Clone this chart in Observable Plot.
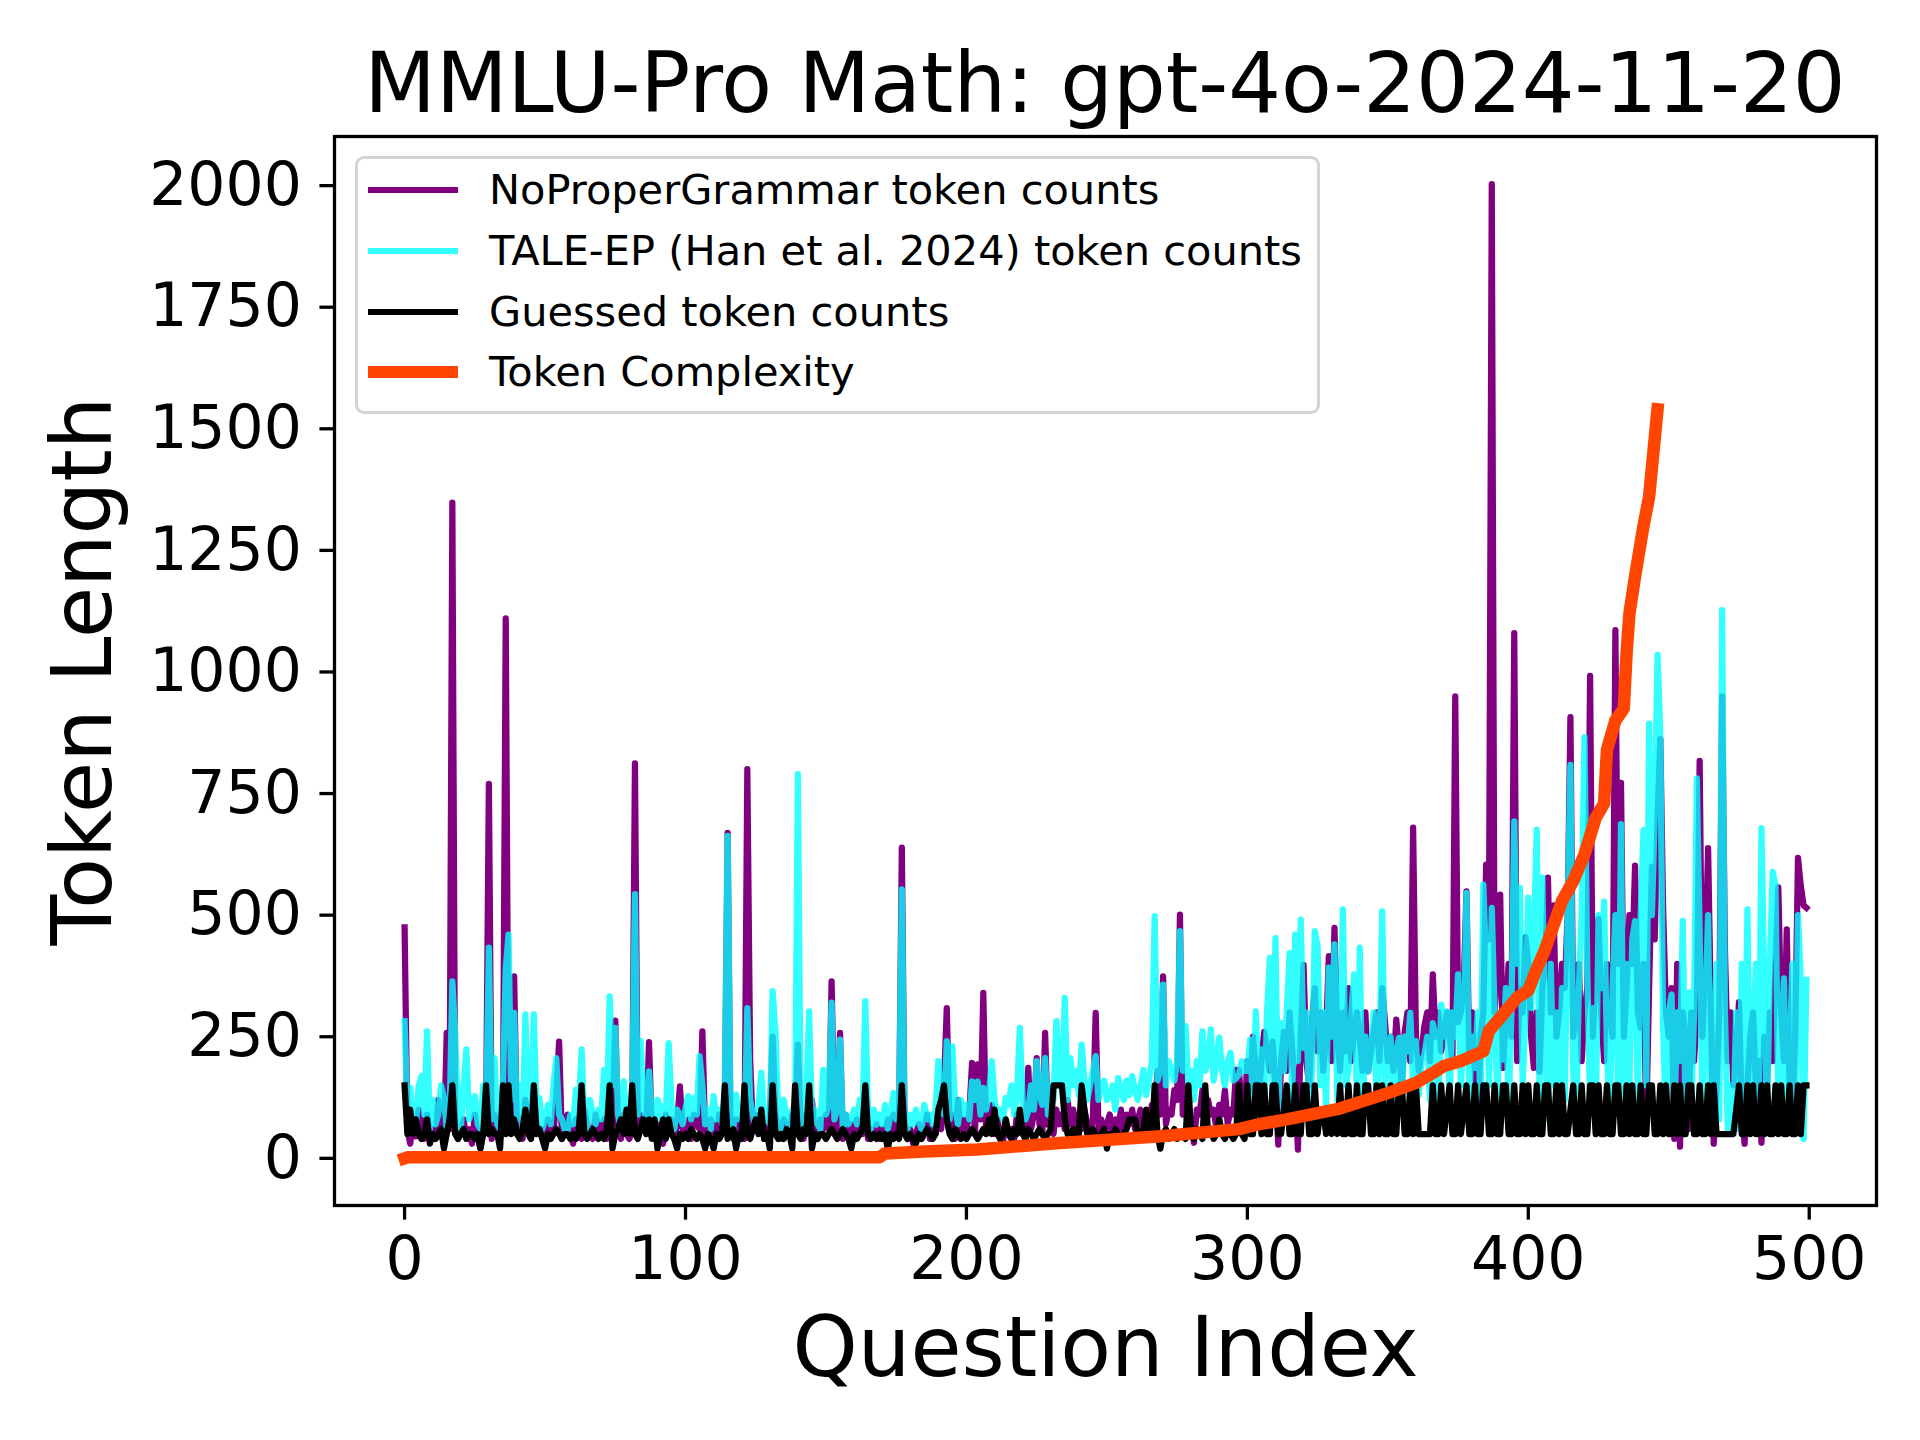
<!DOCTYPE html>
<html>
<head>
<meta charset="utf-8">
<script src="https://cdn.jsdelivr.net/npm/d3@7"></script>
<script src="https://cdn.jsdelivr.net/npm/@observablehq/plot@0.6"></script>
<style>
  html, body { margin: 0; padding: 0; background: white; }
  #wrap { position: relative; width: 1920px; height: 1440px; font-family: "DejaVu Sans", sans-serif; color: black; }
  #title { box-sizing: border-box; height: 126px; padding-top: 42px; margin-left: 334px; width: 1542px;
           text-align: center; font-size: 83px; line-height: 83px; white-space: nowrap; }
  #chart svg { display: block; }
  g[aria-label="x-axis label"], g[aria-label="y-axis label"] { font-size: 83px; }
  g[aria-label="x-axis label"] text, g[aria-label="y-axis label"] text { font-size: 83px; }
  #legend { position: absolute; left: 355px; top: 156px; width: 965px; height: 258px; box-sizing: border-box;
            border: 3.5px solid rgba(204,204,204,0.85); border-radius: 9px; background: rgba(255,255,255,0.8); }
  .sw { position: absolute; left: 10px; width: 90px; }
  .lt { position: absolute; left: 131px; font-size: 41.5px; line-height: 41.5px; white-space: nowrap; }
</style>
</head>
<body>
<div id="wrap">
  <div id="title"></div>
  <div id="chart"></div>
  <div id="legend"></div>
</div>
<script>
const titleText = "MMLU-Pro Math: gpt-4o-2024-11-20";
const xLabel = "Question Index";
const yLabel = "Token Length";
const xTicks = [0, 100, 200, 300, 400, 500];
const yTicks = [0, 250, 500, 750, 1000, 1250, 1500, 1750, 2000];
const seriesNames = ["NoProperGrammar token counts", "TALE-EP (Han et al. 2024) token counts", "Guessed token counts", "Token Complexity"];
const seriesColors = ["#800080", "#00ffff", "#000000", "#ff4500"];

// NoProperGrammar token counts (purple), question index 0..499
const noProperGrammar = [
  475, 60, 30, 80, 45, 100, 70, 40, 90, 50,
  60, 40, 120, 50, 30, 258, 60, 1348, 60, 40,
  50, 80, 40, 60, 30, 90, 45, 20, 60, 80,
  770, 40, 90, 60, 40, 70, 1110, 90, 60, 374,
  50, 80, 40, 120, 60, 40, 90, 70, 50, 60,
  40, 80, 60, 50, 130, 240, 40, 60, 90, 50,
  30, 80, 60, 40, 100, 70, 50, 40, 90, 60,
  50, 80, 40, 100, 70, 283, 60, 40, 90, 50,
  40, 60, 812, 60, 90, 70, 50, 239, 60, 40,
  70, 50, 30, 90, 60, 80, 40, 70, 148, 60,
  50, 80, 40, 90, 70, 60, 261, 50, 40, 80,
  60, 40, 90, 70, 120, 669, 60, 40, 80, 50,
  70, 40, 800, 203, 60, 90, 50, 80, 40, 60,
  70, 250, 90, 60, 40, 80, 60, 50, 90, 60,
  234, 60, 40, 90, 70, 120, 50, 40, 80, 60,
  90, 60, 364, 70, 60, 258, 40, 90, 50, 70,
  40, 80, 60, 50, 90, 40, 60, 50, 70, 40,
  60, 40, 80, 50, 90, 60, 70, 639, 50, 40,
  60, 30, 50, 70, 40, 60, 90, 40, 60, 50,
  80, 60, 150, 309, 60, 90, 40, 120, 60, 80,
  60, 90, 196, 50, 193, 80, 340, 50, 70, 110,
  50, 80, 40, 35, 70, 50, 60, 40, 90, 60,
  70, 50, 186, 60, 90, 206, 70, 50, 258, 69,
  80, 50, 100, 70, 90, 60, 120, 70, 100, 60,
  90, 60, 100, 70, 50, 80, 299, 60, 80, 50,
  70, 90, 50, 80, 60, 100, 50, 90, 70, 100,
  60, 80, 100, 50, 90, 70, 110, 80, 180, 90,
  374, 70, 100, 90, 140, 120, 501, 90, 100, 70,
  60, 32, 100, 90, 140, 70, 120, 90, 100, 60,
  110, 90, 140, 70, 100, 90, 182, 182, 100, 90,
  200, 140, 250, 180, 120, 200, 260, 220, 180, 240,
  150, 28, 200, 260, 180, 300, 220, 150, 18, 250,
  398, 200, 150, 280, 350, 220, 300, 180, 250, 416,
  200, 474, 250, 180, 300, 220, 350, 200, 260, 300,
  250, 180, 300, 179, 220, 260, 300, 200, 350, 280,
  200, 250, 180, 285, 220, 150, 260, 300, 200, 680,
  250, 180, 220, 272, 300, 200, 378, 250, 300, 220,
  260, 300, 250, 200, 950, 280, 300, 350, 549, 200,
  300, 180, 66, 250, 300, 604, 450, 2003, 300, 400,
  542, 186, 300, 400, 250, 1080, 200, 350, 300, 455,
  400, 250, 186, 300, 178, 350, 400, 577, 300, 520,
  250, 300, 400, 350, 500, 907, 250, 300, 400, 200,
  300, 350, 992, 250, 400, 492, 300, 200, 400, 300,
  250, 1086, 400, 772, 250, 350, 500, 400, 602, 300,
  268, 400, 80, 350, 600, 450, 700, 862, 512, 300,
  250, 350, 40, 400, 24, 300, 250, 60, 300, 200,
  300, 817, 250, 400, 638, 300, 30, 150, 300, 950,
  427, 200, 300, 150, 200, 321, 100, 30, 150, 250,
  300, 150, 200, 32, 250, 150, 300, 200, 400, 557,
  300, 200, 471, 150, 100, 250, 618, 560, 520, 515
];

// TALE-EP (Han et al. 2024) token counts (cyan)
const taleEP = [
  282, 100, 145, 80, 60, 148, 169, 90, 261, 60,
  120, 70, 90, 150, 124, 60, 80, 364, 258, 90,
  60, 150, 224, 80, 100, 128, 70, 60, 150, 90,
  433, 80, 206, 70, 60, 150, 388, 460, 120, 299,
  80, 150, 60, 296, 100, 70, 296, 90, 124, 60,
  80, 110, 70, 150, 206, 90, 80, 60, 56, 90,
  70, 141, 100, 224, 80, 60, 120, 90, 70, 100,
  80, 182, 90, 333, 150, 268, 90, 60, 158, 70,
  90, 120, 543, 90, 241, 110, 70, 179, 90, 60,
  120, 107, 70, 90, 237, 110, 60, 100, 90, 70,
  103, 128, 80, 124, 90, 210, 150, 70, 100, 60,
  128, 80, 100, 70, 150, 663, 90, 60, 131, 80,
  100, 70, 309, 120, 90, 60, 110, 176, 80, 100,
  70, 344, 261, 90, 60, 120, 80, 62, 100, 70,
  790, 90, 60, 120, 302, 80, 100, 70, 60, 182,
  90, 110, 320, 80, 100, 244, 60, 90, 70, 83,
  100, 70, 120, 90, 323, 80, 60, 100, 69, 90,
  70, 110, 60, 90, 134, 80, 100, 553, 70, 60,
  90, 70, 100, 76, 60, 110, 80, 90, 70, 100,
  200, 120, 90, 241, 80, 230, 100, 70, 120, 90,
  110, 80, 158, 120, 158, 90, 145, 100, 130, 200,
  120, 90, 100, 80, 124, 110, 150, 90, 130, 268,
  120, 80, 97, 150, 100, 200, 130, 110, 206, 90,
  150, 120, 282, 180, 140, 330, 120, 206, 150, 180,
  130, 234, 160, 120, 150, 180, 210, 120, 148, 160,
  120, 131, 150, 100, 165, 140, 120, 160, 130, 169,
  140, 120, 150, 182, 130, 160, 200, 498, 160, 180,
  357, 150, 200, 180, 160, 200, 467, 180, 272, 150,
  180, 120, 200, 150, 261, 180, 200, 265, 160, 200,
  248, 180, 150, 200, 217, 160, 165, 172, 200, 180,
  180, 244, 100, 302, 150, 224, 90, 300, 412, 120,
  453, 100, 278, 180, 300, 422, 120, 460, 200, 491,
  227, 300, 100, 180, 467, 436, 150, 300, 100, 392,
  250, 440, 120, 200, 512, 150, 180, 300, 378, 120,
  433, 100, 250, 179, 220, 300, 120, 200, 508, 150,
  200, 250, 100, 220, 248, 120, 250, 220, 299, 150,
  241, 130, 200, 213, 250, 120, 278, 250, 100, 316,
  250, 302, 120, 300, 250, 378, 150, 250, 546, 120,
  250, 186, 300, 100, 563, 400, 150, 515, 300, 120,
  300, 203, 350, 100, 300, 693, 400, 556, 150, 300,
  536, 309, 450, 676, 120, 577, 235, 80, 400, 150,
  300, 90, 350, 120, 500, 809, 178, 60, 350, 500,
  866, 390, 100, 309, 60, 500, 350, 528, 219, 90,
  350, 500, 100, 687, 60, 400, 150, 450, 488, 100,
  500, 675, 150, 894, 500, 700, 1035, 870, 268, 60,
  300, 337, 80, 300, 200, 488, 60, 341, 100, 300,
  781, 463, 90, 300, 500, 60, 250, 400, 80, 1127,
  300, 60, 150, 73, 300, 60, 400, 100, 512, 60,
  250, 400, 80, 679, 350, 60, 400, 589, 561, 100,
  250, 370, 60, 200, 400, 80, 500, 366, 40, 367
];

// Guessed token counts (black)
const guessed = [
  150, 50, 100, 50, 80, 50, 40, 50, 80, 30,
  50, 40, 50, 60, 20, 50, 80, 150, 50, 40,
  50, 60, 40, 50, 50, 40, 50, 20, 50, 150,
  50, 60, 50, 50, 20, 150, 50, 150, 50, 80,
  50, 40, 60, 100, 50, 40, 150, 50, 60, 40,
  20, 50, 40, 50, 60, 50, 40, 50, 50, 40,
  50, 40, 50, 150, 50, 40, 50, 60, 50, 40,
  50, 40, 60, 150, 20, 50, 60, 80, 50, 100,
  50, 150, 50, 40, 60, 80, 50, 80, 40, 80,
  20, 50, 80, 40, 80, 50, 40, 20, 50, 40,
  50, 40, 60, 50, 40, 50, 40, 20, 50, 40,
  20, 50, 40, 50, 150, 40, 50, 60, 20, 50,
  40, 150, 50, 40, 60, 80, 50, 100, 40, 50,
  20, 150, 50, 40, 50, 40, 60, 50, 20, 150,
  50, 40, 60, 50, 150, 20, 50, 40, 50, 50,
  40, 50, 60, 50, 40, 50, 60, 50, 40, 20,
  50, 40, 50, 60, 150, 50, 40, 50, 40, 50,
  40, 50, 20, 50, 40, 50, 40, 150, 50, 40,
  50, 40, 30, 50, 40, 50, 60, 50, 40, 50,
  100, 120, 150, 80, 50, 40, 60, 50, 40, 50,
  40, 50, 60, 50, 40, 50, 60, 50, 80, 50,
  100, 50, 40, 50, 80, 50, 40, 60, 50, 100,
  50, 40, 60, 50, 40, 50, 60, 50, 40, 50,
  60, 150, 150, 150, 150, 80, 50, 40, 60, 50,
  50, 150, 100, 50, 40, 60, 50, 40, 50, 60,
  20, 50, 40, 60, 50, 40, 50, 60, 80, 80,
  80, 50, 40, 60, 100, 50, 40, 150, 50, 20,
  50, 60, 40, 50, 60, 40, 50, 50, 40, 150,
  50, 40, 60, 50, 40, 150, 50, 60, 40, 50,
  80, 50, 40, 60, 50, 40, 50, 150, 50, 40,
  150, 50, 50, 150, 150, 50, 150, 50, 50, 150,
  150, 50, 50, 100, 150, 50, 50, 150, 50, 50,
  150, 150, 50, 50, 150, 50, 100, 100, 50, 100,
  50, 100, 50, 150, 50, 50, 150, 50, 50, 150,
  50, 50, 150, 150, 50, 50, 150, 50, 150, 50,
  50, 150, 50, 50, 150, 150, 50, 50, 150, 50,
  150, 50, 50, 50, 50, 50, 150, 50, 50, 150,
  50, 100, 150, 50, 50, 150, 50, 100, 150, 50,
  50, 150, 50, 50, 150, 150, 50, 50, 150, 50,
  50, 150, 150, 50, 50, 150, 50, 50, 150, 50,
  150, 50, 50, 150, 50, 50, 150, 150, 50, 50,
  150, 50, 150, 50, 50, 100, 150, 50, 50, 150,
  50, 50, 150, 150, 50, 150, 50, 50, 150, 50,
  50, 150, 150, 50, 50, 150, 50, 150, 50, 50,
  150, 50, 50, 150, 150, 50, 50, 150, 50, 150,
  50, 50, 150, 50, 150, 50, 50, 150, 150, 50,
  50, 150, 50, 50, 150, 50, 150, 50, 50, 50,
  50, 50, 50, 50, 100, 150, 50, 50, 150, 50,
  150, 50, 50, 150, 50, 150, 50, 50, 150, 50,
  150, 50, 50, 150, 50, 50, 150, 50, 150, 150
];

// Token Complexity (orange-red), read at sampled question indices
const complexityIndex = [0, 1, 169, 171, 185, 204, 232, 268, 297, 304, 314, 332, 350, 360, 367, 370, 376, 384, 386, 391, 396, 400, 403, 406, 408, 412, 416, 420, 424, 427, 428, 431, 434, 435, 436, 438, 441, 443, 444, 446];
const complexityValue = [0, 2, 2, 10, 14, 18, 31, 45, 60, 70, 80, 101, 134, 155, 179, 190, 200, 220, 262, 296, 330, 345, 390, 430, 463, 529, 570, 625, 700, 730, 840, 900, 925, 1040, 1120, 1196, 1300, 1360, 1420, 1540];

const complexity = complexityIndex.map((x, i) => ({x, y: complexityValue[i]}));

document.getElementById("title").textContent = titleText;

const chart = Plot.plot({
  width: 1920,
  height: 1314,
  marginTop: 10,
  marginBottom: 235,
  marginLeft: 334,
  marginRight: 44,
  style: {fontFamily: "DejaVu Sans", fontSize: "60px", color: "black", background: "white", overflow: "visible"},
  x: {domain: [-24.95, 523.95]},
  y: {domain: [-97, 2101]},
  marks: [
    Plot.line(noProperGrammar, {x: (d, i) => i, y: d => d, stroke: seriesColors[0], strokeWidth: 6.25, strokeLinejoin: "round", strokeLinecap: "square"}),
    Plot.line(taleEP, {x: (d, i) => i, y: d => d, stroke: seriesColors[1], strokeOpacity: 0.8, strokeWidth: 6.25, strokeLinejoin: "round", strokeLinecap: "square"}),
    Plot.line(guessed, {x: (d, i) => i, y: d => d, stroke: seriesColors[2], strokeWidth: 6.25, strokeLinejoin: "round", strokeLinecap: "square"}),
    Plot.line(complexity, {x: "x", y: "y", stroke: seriesColors[3], strokeWidth: 12.5, strokeLinejoin: "round", strokeLinecap: "square"}),
    Plot.frame({stroke: "black", strokeWidth: 3.3}),
    Plot.axisX({ticks: xTicks, tickSize: 14.6, tickPadding: 16, fontSize: 60, strokeWidth: 3.3, tickFormat: d => String(d),
                label: xLabel, labelAnchor: "center", labelArrow: "none", labelOffset: 170}),
    Plot.axisY({ticks: yTicks, tickSize: 14.6, tickPadding: 18, fontSize: 60, strokeWidth: 3.3, tickFormat: d => String(d),
                label: yLabel, labelAnchor: "center", labelArrow: "none", labelOffset: 282})
  ]
});
document.getElementById("chart").appendChild(chart);

// legend
const legend = document.getElementById("legend");
const rowCenters = [31, 92, 153, 213];
const swatchWidths = [6.25, 6.25, 6.25, 12.5];
seriesNames.forEach((name, i) => {
  const sw = document.createElement("div");
  sw.className = "sw";
  sw.style.top = (rowCenters[i] - swatchWidths[i] / 2) + "px";
  sw.style.height = swatchWidths[i] + "px";
  sw.style.background = seriesColors[i];
  if (i === 1) sw.style.opacity = 0.8;
  legend.appendChild(sw);
  const t = document.createElement("div");
  t.className = "lt";
  t.style.top = (rowCenters[i] - 21) + "px";
  t.textContent = name;
  legend.appendChild(t);
});
</script>
</body>
</html>
